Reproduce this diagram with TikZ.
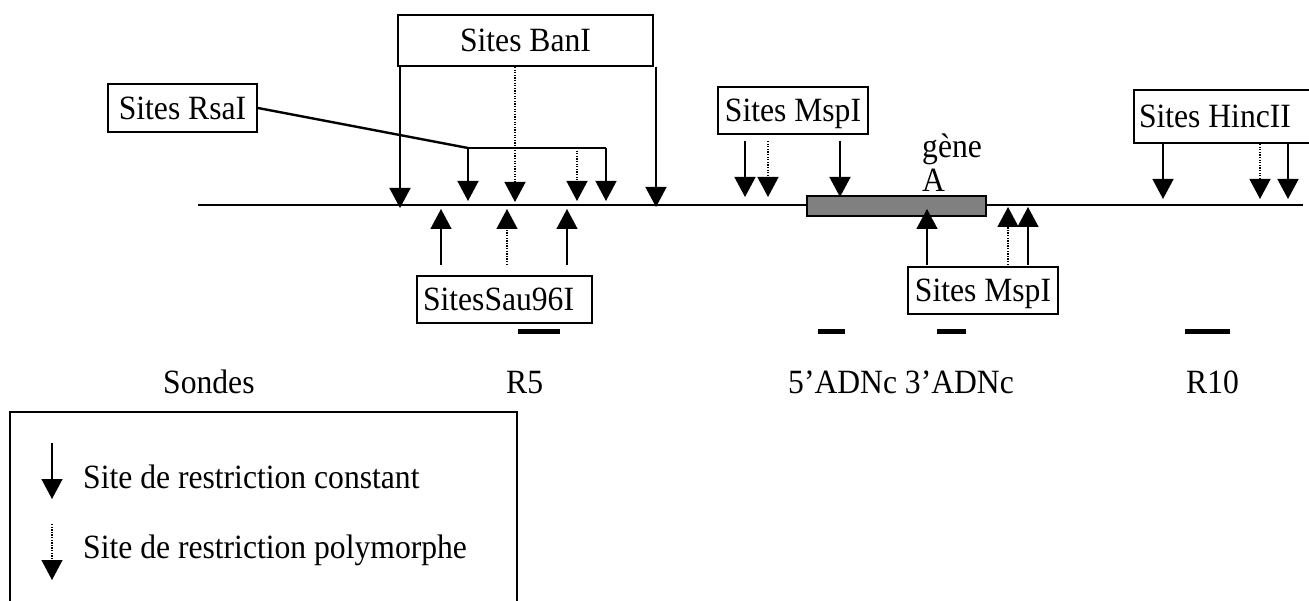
\documentclass[tikz,border=0pt]{standalone}
\usepackage{fontspec}
\setmainfont{Liberation Serif}[FakeStretch=0.93]
\usetikzlibrary{arrows.meta}
\tikzset{
  txt/.style={font=\fontsize{34}{38}\selectfont, inner sep=0pt},
  sitebox/.style={txt, draw, line width=2pt, text height=23pt, text depth=0pt},
  solidarr/.style={line width=1.4pt, -{Triangle[length=20pt,width=21pt]}},
  dotarr/.style={line width=1.3pt, dash pattern=on 1.3pt off 1.3pt, -{Triangle[length=20pt,width=21pt]}},
  probe/.style={line width=5pt},
}
\begin{document}
\begin{tikzpicture}[x=1pt,y=-1pt]
\useasboundingbox (0,0) rectangle (1309,601);
\clip (0,0) rectangle (1309,601);

% main DNA line and gene
\coordinate (lineL) at (198,205);
\coordinate (lineR) at (1303,205);
\draw[line width=2.8pt] (lineL) -- (lineR);
\node[draw, line width=2pt, fill=black!50, minimum width=179pt, minimum height=20pt, inner sep=0pt] (gene) at (896.5,206) {};
\node[txt, anchor=base west] (geneA) at (922,158) {gène};
\node[txt, anchor=base west] (geneB) at (922,192) {A};

% site boxes
\node[sitebox, minimum width=255pt, minimum height=51pt] (banI) at (525.5,40.5) {Sites BanI};
\node[sitebox, minimum width=149pt, minimum height=48pt] (rsaI) at (182.5,108) {Sites RsaI};
\node[sitebox, minimum width=150pt, minimum height=47pt] (mspT) at (793,110.5) {Sites MspI};
\node[sitebox, anchor=west, inner xsep=5pt, minimum height=53pt] (hinc) at (1133,116.5) {\makebox[180pt][l]{Sites HincII}};
\node[sitebox, inner xsep=6pt, minimum height=47pt] (sau) at (504.5,299.5) {\makebox[163pt][l]{SitesSau96I}};
\node[sitebox, minimum width=150pt, minimum height=47pt] (mspB) at (983,290.5) {Sites MspI};

% BanI arrows
\coordinate (b1) at (400,208);
\coordinate (b2) at (515,202);
\coordinate (b3) at (656,207);
\draw[solidarr] (b1 |- banI.south) -- (b1);
\draw[dotarr] (b2 |- banI.south) -- (b2);
\draw[solidarr] (b3 |- banI.south) -- (b3);

% RsaI bracket and arrows
\coordinate (rk) at (468,148);
\coordinate (rend) at (606,148);
\draw[line width=2.4pt] (rsaI.east) -- (rk);
\draw[line width=1.6pt] (rk) -- (rend);
\coordinate (r1) at (468,201);
\coordinate (r2) at (577,201);
\coordinate (r3) at (606,201);
\draw[solidarr] (rk) -- (r1);
\draw[dotarr] (r2 |- rk) -- (r2);
\draw[solidarr] (rend) -- (r3);

% MspI top arrows
\coordinate (m1) at (745,197);
\coordinate (m2) at (768,197);
\coordinate (m3) at (840,197);
\draw[solidarr] (745,141) -- (m1);
\draw[dotarr] (768,141) -- (m2);
\draw[solidarr] (840,141) -- (m3);

% HincII arrows
\coordinate (h1) at (1163,199);
\coordinate (h2) at (1260,199);
\coordinate (h3) at (1288,199);
\draw[solidarr] (h1 |- hinc.south) -- (h1);
\draw[dotarr] (h2 |- hinc.south) -- (h2);
\draw[solidarr] (h3 |- hinc.south) -- (h3);

% Sau96I arrows (upward)
\coordinate (s1) at (441,209);
\coordinate (s2) at (507,209);
\coordinate (s3) at (567,209);
\draw[solidarr] (441,265) -- (s1);
\draw[dotarr] (507,265) -- (s2);
\draw[solidarr] (567,265) -- (s3);

% MspI bottom arrows (upward)
\coordinate (n1) at (927,209);
\coordinate (n2) at (1008,207);
\coordinate (n3) at (1028,207);
\draw[solidarr] (927,265) -- (n1);
\draw[dotarr] (1008,265) -- (n2);
\draw[solidarr] (1028,265) -- (n3);

% probes
\coordinate (pR5a) at (518,332);   \coordinate (pR5b) at (560,332);
\coordinate (p5a) at (818,332);    \coordinate (p5b) at (845,332);
\coordinate (p3a) at (937,332);    \coordinate (p3b) at (966,332);
\coordinate (pR10a) at (1185,332); \coordinate (pR10b) at (1230,332);
\draw[probe] (pR5a) -- (pR5b);
\draw[probe] (p5a) -- (p5b);
\draw[probe] (p3a) -- (p3b);
\draw[probe] (pR10a) -- (pR10b);

\node[txt, anchor=base west] (sondes) at (163,393) {Sondes};
\node[txt, anchor=base west] (lR5) at (506,393) {R5};
\node[txt, anchor=base west] (lADN) at (788,393) {5’ADNc 3’ADNc};
\node[txt, anchor=base west] (lR10) at (1186,393) {R10};

% legend
\node[draw, line width=1.6pt, anchor=north west, minimum width=507pt, minimum height=220pt, inner sep=0pt] (legend) at (9,411) {};
\coordinate (lg1) at (52,499);
\coordinate (lg2) at (52,580);
\draw[solidarr] (52,443) -- (lg1);
\draw[dotarr] (52,524) -- (lg2);
\node[txt, anchor=base west] (lt1) at (83,488) {Site de restriction constant};
\node[txt, anchor=base west] (lt2) at (83,558) {Site de restriction polymorphe};
\end{tikzpicture}
\end{document}
